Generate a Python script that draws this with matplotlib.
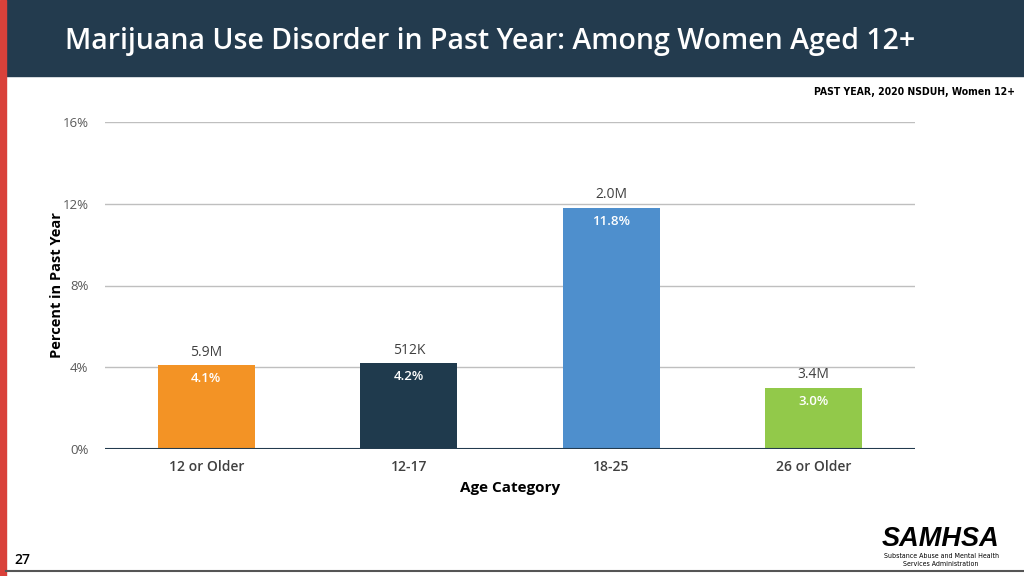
import matplotlib.pyplot as plt
from matplotlib.patches import Rectangle
from matplotlib.lines import Line2D

plt.rcParams['font.family'] = ['Open Sans', 'DejaVu Sans']

categories = ['12 or Older', '12-17', '18-25', '26 or Older']
percents = [4.1, 4.2, 11.8, 3.0]
counts = ['5.9M', '512K', '2.0M', '3.4M']
colors = ['#F39325', '#1F3A4D', '#4E8FCD', '#92C94A']
yticks = [0, 4, 8, 12, 16]

navy = '#233B4E'

fig = plt.figure(figsize=(10.24, 5.76), dpi=100)

# slide decoration
fig.patches.append(Rectangle((6 / 1024, 1 - 76 / 576), 1, 76 / 576,
                             transform=fig.transFigure, color=navy, zorder=0))
fig.patches.append(Rectangle((0, 0), 6 / 1024, 1, transform=fig.transFigure,
                             color='#D9413A', zorder=0))
fig.lines.append(Line2D([6 / 1024, 1], [5 / 576, 5 / 576], transform=fig.transFigure,
                        color='#555555', lw=1.5))

fig.text(65 / 1024, 1 - 42 / 576, 'Marijuana Use Disorder in Past Year: Among Women Aged 12+',
         color='white', fontsize=20.5, fontweight='semibold', va='center', ha='left')
fig.text(1015 / 1024, 1 - 92 / 576, 'PAST YEAR, 2020 NSDUH, Women 12+',
         family=['DejaVu Sans'], fontstretch='condensed', fontweight='bold',
         fontsize=7.5, ha='right', va='center', color='black')
fig.text(14 / 1024, 1 - 560 / 576, '27', fontsize=10, fontweight='semibold', va='center')

# logo text
fig.text(941 / 1024, 1 - 539 / 576, 'SAMHSA', family=['Liberation Sans', 'DejaVu Sans'],
         fontsize=19.5, fontweight='bold', style='italic', ha='center', va='center')
fig.text(941 / 1024, 1 - 560 / 576, 'Substance Abuse and Mental Health\nServices Administration',
         family=['DejaVu Sans'], fontstretch='condensed', fontsize=5, ha='center',
         va='center', linespacing=1.2)

ax = fig.add_axes([105 / 1024, 127 / 576, 810 / 1024, 327 / 576])
x = range(len(categories))
bars = ax.bar(x, percents, width=0.48, color=colors, zorder=3)

for xi, p, c in zip(x, percents, counts):
    ax.annotate(c, (xi, p), xytext=(0, 4), textcoords='offset points',
                ha='center', va='bottom', fontsize=10, color='#404040', zorder=4)
    ax.annotate(f'{p:.1f}%', (xi, p), xytext=(0, -5), textcoords='offset points',
                ha='center', va='top', fontsize=9.5, fontweight='semibold', color='white', zorder=4)

ax.set_xlim(-0.5, 3.5)
ax.set_ylim(0, 16)
ax.set_yticks(yticks)
ax.set_yticklabels([f'{t}%' for t in yticks])
ax.set_xticks(list(x))
ax.set_xticklabels(categories)
ax.grid(axis='y', color='#BFBFBF', lw=1, zorder=0)
ax.axhline(0, color=navy, lw=1.5, zorder=5)
for s in ax.spines.values():
    s.set_visible(False)
ax.tick_params(axis='both', length=0, labelsize=9.5, colors='#595959')
ax.tick_params(axis='y', pad=12)
ax.tick_params(axis='x', pad=8)
for lbl in ax.get_xticklabels():
    lbl.set_fontsize(10)
    lbl.set_color('#404040')
    lbl.set_fontweight('semibold')
ax.set_ylabel('Percent in Past Year', fontsize=10.5, fontweight='bold')
ax.yaxis.set_label_coords(-0.051, 0.5)
ax.set_xlabel('Age Category', fontsize=11, fontweight='bold', labelpad=5)

fig.savefig('out.png', dpi=100)
